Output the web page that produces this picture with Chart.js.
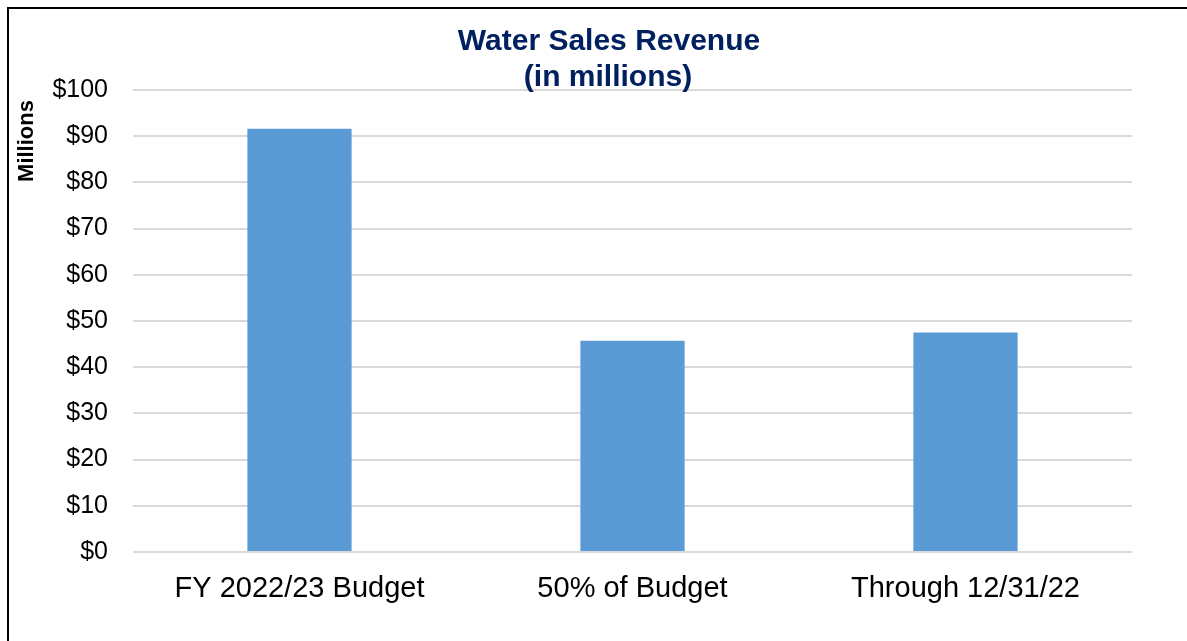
<!DOCTYPE html>
<html>
<head>
<meta charset="utf-8">
<script src="https://cdn.jsdelivr.net/npm/chart.js@4.4.1/dist/chart.umd.min.js"></script>
<style>
  html, body { margin: 0; padding: 0; background: #ffffff; }
  #wrap { position: absolute; left: 0; top: 0; width: 1187px; height: 641px; }
</style>
</head>
<body>
<div id="wrap"><canvas id="c" width="1187" height="641"></canvas></div>
<script>
const categories = ["FY 2022/23 Budget", "50% of Budget", "Through 12/31/22"];
const revenue = [91.6, 45.7, 47.5];
const titleLines = ["Water Sales Revenue", "(in millions)"];
const yAxisTitle = "Millions";
const yTickPrefix = "$";

const FONT = "'Liberation Sans', Arial, sans-serif";

const decor = {
  id: 'decor',
  afterDraw(chart) {
    const ctx = chart.ctx;
    ctx.save();
    // outer frame (top and left only)
    ctx.fillStyle = '#000000';
    ctx.fillRect(7, 7, 1187 - 7, 2);
    ctx.fillRect(7, 7, 2, 641 - 7);
    // title
    ctx.fillStyle = '#002060';
    ctx.font = "bold 30px " + FONT;
    ctx.textAlign = 'center';
    ctx.textBaseline = 'alphabetic';
    ctx.fillText(titleLines[0], 609, 50);
    ctx.fillText(titleLines[1], 608, 86);
    // y axis title
    ctx.translate(27, 141);
    ctx.rotate(-Math.PI / 2);
    ctx.fillStyle = '#000000';
    ctx.font = "bold 22px " + FONT;
    ctx.textAlign = 'center';
    ctx.textBaseline = 'middle';
    ctx.fillText(yAxisTitle, 0, 0);
    ctx.restore();
  }
};

new Chart(document.getElementById('c'), {
  type: 'bar',
  data: {
    labels: categories,
    datasets: [{
      data: revenue,
      backgroundColor: '#5B9BD5',
      borderWidth: 0,
      barPercentage: 0.313,
      categoryPercentage: 1.0
    }]
  },
  options: {
    responsive: false,
    devicePixelRatio: 1,
    animation: false,
    layout: { padding: { top: 90, left: 0, right: 55, bottom: 0 } },
    plugins: {
      legend: { display: false },
      title: { display: false },
      tooltip: { enabled: false }
    },
    scales: {
      x: {
        grid: { display: false, drawTicks: false },
        border: { display: false },
        ticks: {
          color: '#000000',
          font: { family: FONT, size: 29 },
          padding: 20,
          maxRotation: 0,
          autoSkip: false
        },
        afterFit(scale) { scale.height = 89; }
      },
      y: {
        min: 0,
        max: 100,
        grid: { color: '#d9d9d9', lineWidth: 2, drawTicks: false },
        border: { display: false },
        ticks: {
          stepSize: 10,
          color: '#000000',
          font: { family: FONT, size: 25 },
          padding: 25,
          callback: (v) => yTickPrefix + v
        },
        afterFit(scale) { scale.width = 133; }
      }
    }
  },
  plugins: [decor]
});
</script>
</body>
</html>
